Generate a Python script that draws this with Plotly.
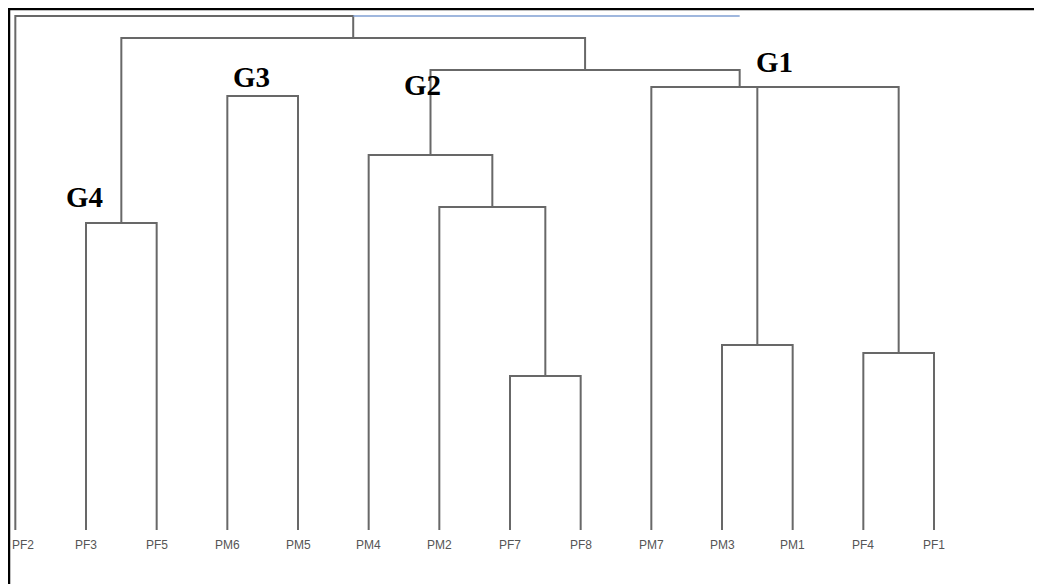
import plotly.graph_objects as go

# ---- data ----
leaves = ["PF2", "PF3", "PF5", "PM6", "PM5", "PM4", "PM2", "PF7", "PF8",
          "PM7", "PM3", "PM1", "PF4", "PF1"]
merge_left = ["PF3", "PM6", "PF7", "PM2", "PM4", "PM3", "PF4", "n3", "PM7", "G2", "G4", "PF2"]
merge_right = ["PF5", "PM5", "PF8", "n1", "n2", "PM1", "PF1", "n4", "n5", "G1", "n6", "n7"]
merge_height = [15.35, 21.7, 7.7, 16.15, 18.75, 9.25, 8.85, 22.15, 22.15, 23.0, 24.6, 25.7]
merge_name = ["G4", "G3", "n1", "n2", "G2", "n3", "n4", "n5", "G1", "n6", "n7", "root"]
group_labels = ["G1", "G2", "G3", "G4"]

# ---- compute positions ----
xpos = {name: float(i) for i, name in enumerate(leaves)}
hpos = {name: 0.0 for name in leaves}
xs, ys = [], []
for l, r, h, n in zip(merge_left, merge_right, merge_height, merge_name):
    xl, xr = xpos[l], xpos[r]
    xs += [xl, xl, xr, xr, None]
    ys += [hpos[l], h, h, hpos[r], None]
    xpos[n] = (xl + xr) / 2
    hpos[n] = h

line_col = "#686868"
fig = go.Figure()
fig.add_trace(go.Scatter(x=xs, y=ys, mode="lines",
                         line=dict(color=line_col, width=2),
                         hoverinfo="skip", showlegend=False))

# blue artefact line continuing the root level
fig.add_trace(go.Scatter(x=[xpos["n7"], xpos["G1"]], y=[hpos["root"], hpos["root"]],
                         mode="lines", line=dict(color="#7f9fd3", width=1.5),
                         hoverinfo="skip", showlegend=False))

# leaf labels
for i, name in enumerate(leaves):
    fig.add_annotation(x=xpos[name], y=0, yshift=-15, text=name, showarrow=False,
                       xshift=8 if i == 0 else 0,
                       font=dict(family="Liberation Sans, Arial", size=12, color="#555555"))

shifts = {"G1": (35, 25), "G2": (-8, 70), "G3": (-11, 19), "G4": (-37, 26)}
for g in group_labels:
    dx, dy = shifts[g]
    fig.add_annotation(x=xpos[g], y=hpos[g], text="<b>" + g + "</b>", showarrow=False,
                       xshift=dx, yshift=dy,
                       font=dict(family="Liberation Serif, Times New Roman", size=29, color="black"))

W, H = 1034, 576
# frame
fig.add_shape(type="line", xref="paper", yref="paper", x0=0, x1=1, y0=1 - 1 / H, y1=1 - 1 / H,
              line=dict(color="black", width=2.5))
fig.add_shape(type="line", xref="paper", yref="paper", x0=1 / W, x1=1 / W, y0=0, y1=1,
              line=dict(color="black", width=2.5))

px_per_unit = 848 / 12
x0 = 1 - 78 / px_per_unit
fig.update_layout(
    width=W, height=H,
    margin=dict(l=0, r=0, t=0, b=0),
    paper_bgcolor="white", plot_bgcolor="white",
    xaxis=dict(range=[x0, x0 + W / px_per_unit], visible=False),
    yaxis=dict(range=[-2.7, 26.1], visible=False),
)
fig.write_html("out.html")
